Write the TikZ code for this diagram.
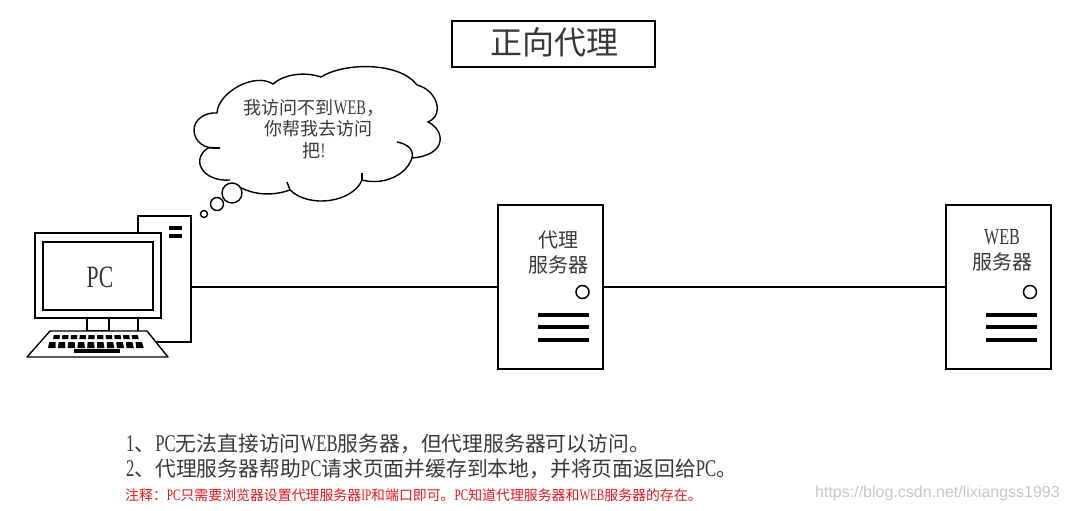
\documentclass[tikz,border=0pt]{standalone}
\usepackage{fontspec}
\setmainfont{Noto Sans CJK SC}
\newfontfamily\latfont[FakeStretch=0.7,Scale=1.15]{Liberation Serif}
\newfontfamily\urlfont{Liberation Sans}
\newcommand{\lat}[1]{{\latfont #1}}
\definecolor{textgray}{gray}{0.22}
\definecolor{notered}{RGB}{230,20,30}
\tikzset{
  frame/.style={draw=black, line width=1.4pt, fill=white, inner sep=0pt, outer sep=0pt},
  server/.style={frame, minimum width=105pt, minimum height=164pt},
  lamp/.style={draw=black, line width=1.5pt},
  bar/.style={line width=4pt},
  slot/.style={line width=3.5pt},
  wire/.style={draw=black, line width=1.4pt},
  cloudline/.style={line width=1.4pt},
  label/.style={text=textgray, inner sep=0pt, align=center},
  label20/.style={label, font=\fontsize{20}{25}\selectfont},
  note/.style={text=textgray, inner sep=0pt, anchor=west, font=\fontsize{20.8}{24}\selectfont},
}
\begin{document}
\begin{tikzpicture}[x=1pt, y=-1pt]
  \useasboundingbox (0,0) rectangle (1069,511);

  % title
  \node[frame, minimum width=203pt, minimum height=46pt] (title) at (553.5,44) {};
  \node[label, font=\fontsize{32}{36}\selectfont] (titletext) at (554.5,42) {正向代理};

  % pc
  \node[frame, minimum width=53pt, minimum height=126pt] (tower) at (164.5,279) {};
  \draw[slot] (169,228) -- (182,228);
  \draw[slot] (169,236) -- (182,236);
  \draw[frame] (87,318) rectangle (109,331);
  \node[frame, minimum width=126pt, minimum height=85pt] (monitor) at (98,275.5) {};
  \node[frame, minimum width=110pt, minimum height=68pt] (screen) at (98,276) {};
  \node[label, font=\fontsize{27}{30}\selectfont\latfont] (pctext) at (100,277) {PC};
  \draw[frame, line join=round] (50,331) -- (147,331) -- (168,357) -- (27,357) -- cycle;
  \foreach \k in {0,...,9} {
    \fill[black] ({53+8.8*\k},339) -- ({53.8+8.65*\k},335) -- ({60+8.65*\k},335) -- ({59.5+8.8*\k},339) -- cycle;
    \fill[black] ({48+9.8*\k},348) -- ({49.2+9.6*\k},342) -- ({55.5+9.6*\k},342) -- ({55.5+9.8*\k},348) -- cycle;
  }
  \draw[line width=3.5pt] (74,351) -- (120,351);

  % thought cloud
  \draw[cloudline] (220,148) .. controls (204,150) and (194,141) .. (194,130)
    .. controls (194,119) and (206,112) .. (217,113)
    .. controls (218,92) and (255,72) .. (273,84)
    .. controls (283,75) and (303,71) .. (321,77)
    .. controls (345,62) and (400,62) .. (417,85)
    .. controls (437,90) and (445,115) .. (428,122)
    .. controls (445,130) and (448,155) .. (412,158)
    .. controls (405,178) and (380,185) .. (362,180)
    .. controls (353,202) and (310,209) .. (290,190)
    .. controls (267,198) and (247,193) .. (233,183);
  \draw[cloudline] (230,180) .. controls (203,182) and (190,160) .. (208,148)
    .. controls (212,147) and (216,148) .. (220,148);
  \draw[cloudline] (397,142) .. controls (408,144) and (414,150) .. (412,158);
  \draw[cloudline] (362,173) -- (362,180);
  \draw[cloudline] (287,182) -- (290,190);
  \draw[cloudline, fill=white] (232,193) circle [radius=10pt];
  \draw[cloudline, fill=white] (217,204) circle [radius=6.5pt];
  \draw[cloudline, fill=white] (204,214) circle [radius=3.5pt];
  \node[label, font=\fontsize{18}{21.5}\selectfont] (cloudtext) at (314,129) {我访问不到\lat{WEB}，\\\hspace*{9pt}你帮我去访问\\把\lat{!}};

  % servers
  \node[server] (proxy) at (550.5,287) {};
  \node[server] (web) at (998.5,287) {};
  \draw[wire] (tower.east |- proxy.west) -- (proxy.west);
  \draw[wire] (proxy.east) -- (web.west);

  \node[label20] (proxytext) at (558,252.5) {代理\\服务器};
  \node[label20] (webtext) at (1002,250) {\lat{WEB}\\服务器};

  \node[lamp, circle, minimum size=13pt, inner sep=0pt] (proxylamp) at (582.5,292) {};
  \node[lamp, circle, minimum size=13pt, inner sep=0pt] (weblamp) at (1030,292) {};
  \foreach \y in {315,327,340} {
    \draw[bar] (538,\y) -- (589,\y);
    \draw[bar] (986,\y) -- (1037,\y);
  }

  % notes
  \node[note] (noteone) at (126,444) {\lat{1}、\lat{PC}无法直接访问\lat{WEB}服务器，但代理服务器可以访问。};
  \node[note] (notetwo) at (126,469) {\lat{2}、代理服务器帮助\lat{PC}请求页面并缓存到本地，并将页面返回给\lat{PC}。};
  \node[note, text=notered, font=\fontsize{13.9}{16}\selectfont] (notered) at (125,495) {注释：\lat{PC}只需要浏览器设置代理服务器\lat{IP}和端口即可。\lat{PC}知道代理服务器和\lat{WEB}服务器的存在。};
  \node[inner sep=0pt, anchor=east, text=black!22, font=\fontsize{16}{18}\selectfont\urlfont] (watermark) at (1060,493) {https://blog.csdn.net/lixiangss1993};
\end{tikzpicture}
\end{document}
